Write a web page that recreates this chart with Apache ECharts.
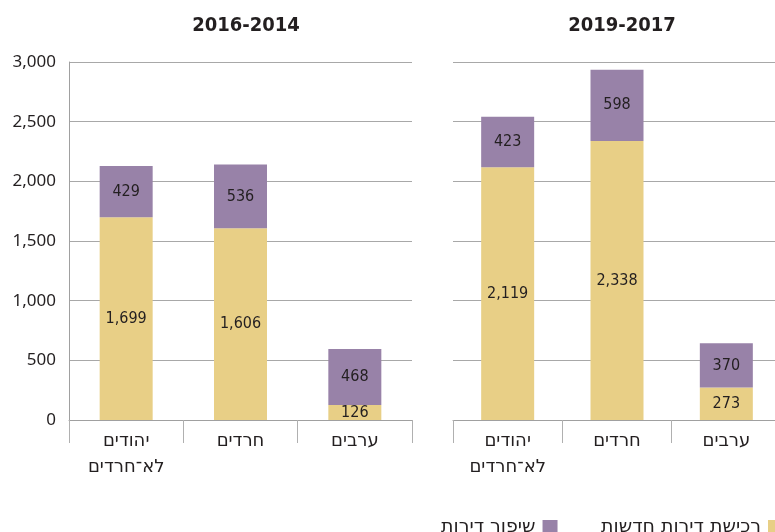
<!DOCTYPE html>
<html>
<head>
<meta charset="utf-8">
<script src="https://cdn.jsdelivr.net/npm/echarts@6/dist/echarts.min.js"></script>
<style>
    html, body { margin: 0; padding: 0; background: #fff; }
    #main { width: 775px; height: 532px; }
</style>
</head>
<body>
<div id="main"></div>
<script>
// קטגוריות (משמאל לימין)
const categories = ['יהודים\nלא־חרדים', 'חרדים', 'ערבים'];
const periods = ['2016-2014', '2019-2017'];

// רכישת דירות חדשות
const purchase1416 = [1699, 1606, 126];
const purchase1719 = [2119, 2338, 273];

// שיפור דירות
const upgrade1416 = [429, 536, 468];
const upgrade1719 = [423, 598, 370];

const yTicks = [0, 500, 1000, 1500, 2000, 2500, 3000];

const YELLOW = '#e8cf86';
const PURPLE = '#9882a8';
const TEXT = '#231f20';
const FONT = '"DejaVu Sans Condensed", "DejaVu Sans", sans-serif';
const HEB_FONT = '"DejaVu Sans", sans-serif';

function fmt(v) {
    return Number(v).toLocaleString('en-US');
}

document.addEventListener('DOMContentLoaded', function () {
    const myChart = echarts.init(document.getElementById('main'));

    const barLabel = {
        show: true,
        position: 'inside',
        color: TEXT,
        fontSize: 16,
        fontFamily: FONT,
        formatter: p => fmt(p.value)
    };

    function xAxis(idx) {
        return {
            type: 'category',
            gridIndex: idx,
            data: categories,
            axisLine: { show: true, lineStyle: { color: '#a0a0a0', width: 1 } },
            axisTick: { show: true, length: 23, lineStyle: { color: '#b0b0b0' } },
            axisLabel: {
                color: TEXT,
                fontSize: 18,
                fontFamily: HEB_FONT,
                lineHeight: 26,
                margin: 8
            }
        };
    }

    function yAxis(idx, showLabels) {
        return {
            type: 'value',
            gridIndex: idx,
            min: yTicks[0],
            max: yTicks[yTicks.length - 1],
            interval: 500,
            axisLine: { show: showLabels, lineStyle: { color: '#a0a0a0' } },
            axisTick: { show: false },
            axisLabel: {
                show: showLabels,
                color: TEXT,
                fontSize: 17,
                fontFamily: '"Noto Sans", sans-serif',
                margin: 13,
                formatter: v => fmt(v)
            },
            splitLine: { lineStyle: { color: '#a8a8a8', width: 1 } }
        };
    }

    function series(name, data, idx, color) {
        return {
            name: name,
            type: 'bar',
            stack: 's' + idx,
            xAxisIndex: idx,
            yAxisIndex: idx,
            barWidth: 53,
            data: data,
            itemStyle: { color: color },
            label: barLabel
        };
    }

    // מקרא – האייקון מימין לטקסט
    function legend(name, left) {
        return {
            data: [name],
            left: left,
            top: 518,
            padding: 0,
            align: 'right',
            icon: 'rect',
            itemWidth: 15,
            itemHeight: 15,
            itemGap: 0,
            textStyle: { color: TEXT, fontSize: 19, fontFamily: HEB_FONT, padding: [0, 2, 0, 0] }
        };
    }

    const option = {
        animation: false,
        title: [
            {
                text: periods[0], left: 241, top: 11, textAlign: 'center',
                textStyle: { fontSize: 20, fontWeight: 'bold', color: TEXT, fontFamily: FONT }
            },
            {
                text: periods[1], left: 617, top: 11, textAlign: 'center',
                textStyle: { fontSize: 20, fontWeight: 'bold', color: TEXT, fontFamily: FONT }
            }
        ],
        legend: [
            legend('שיפור דירות', 441),
            legend('רכישת דירות חדשות', 601)
        ],
        grid: [
            { left: 69, width: 343, top: 62, bottom: 112, outerBoundsMode: 'none' },
            { left: 453, width: 328, top: 62, bottom: 112, outerBoundsMode: 'none' }
        ],
        xAxis: [xAxis(0), xAxis(1)],
        yAxis: [yAxis(0, true), yAxis(1, false)],
        series: [
            series('רכישת דירות חדשות', purchase1416, 0, YELLOW),
            series('שיפור דירות', upgrade1416, 0, PURPLE),
            series('רכישת דירות חדשות', purchase1719, 1, YELLOW),
            series('שיפור דירות', upgrade1719, 1, PURPLE)
        ]
    };

    myChart.setOption(option);
});
</script>
</body>
</html>
